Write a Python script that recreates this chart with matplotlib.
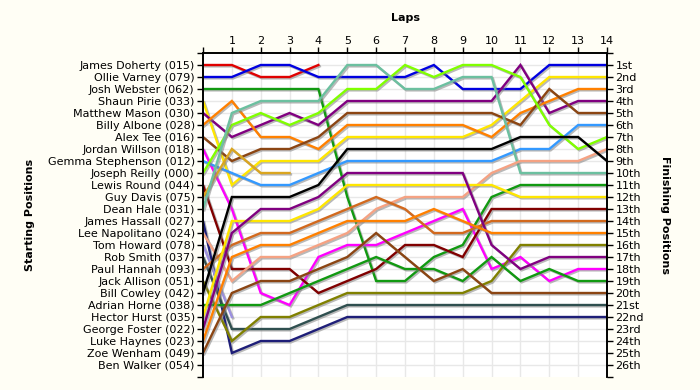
import matplotlib
matplotlib.use("Agg")
import matplotlib.pyplot as plt
import matplotlib.patheffects as pe

# starting grid order (position 1 first)
drivers = ["James Doherty", "Ollie Varney", "Josh Webster", "Shaun Pirie",
           "Matthew Mason", "Billy Albone", "Alex Tee", "Jordan Willson",
           "Gemma Stephenson", "Joseph Reilly", "Lewis Round", "Guy Davis",
           "Dean Hale", "James Hassall", "Lee Napolitano", "Tom Howard",
           "Rob Smith", "Paul Hannah", "Jack Allison", "Bill Cowley",
           "Adrian Horne", "Hector Hurst", "George Foster", "Luke Haynes",
           "Zoe Wenham", "Ben Walker"]
car_numbers = ["015", "079", "062", "033", "030", "028", "016", "018", "012",
               "000", "044", "075", "031", "027", "024", "078", "037", "093",
               "051", "042", "038", "035", "022", "023", "049", "054"]

# race position at the end of each lap (index 0 = grid)
positions = [
    [1, 1, 2, 2, 1],
    [2, 2, 1, 1, 2, 2, 2, 2, 1, 3, 3, 3, 1, 1, 1],
    [3, 3, 3, 3, 3, 12, 19, 19, 17, 16, 12, 11, 11, 11, 11],
    [4, 11, 9, 9, 9, 7, 7, 7, 7, 7, 6, 4, 2, 2, 2],
    [5, 7, 6, 5, 6, 4, 4, 4, 4, 4, 4, 1, 5, 4, 4],
    [6, 4, 7, 7, 8, 6, 6, 6, 6, 6, 7, 5, 4, 3, 3],
    [7, 9, 8, 8, 7, 5, 5, 5, 5, 5, 5, 6, 3, 5, 5],
    [8, 13, 20, 21, 17, 16, 16, 15, 14, 13, 18, 17, 19, 18, 18],
    [9, 10, 11, 11, 10, 9, 9, 9, 9, 9, 9, 8, 8, 6, 6],
    [10, 6, 5, 6, 5, 3, 3, 1, 2, 1, 1, 2, 6, 8, 7],
    [11, 18, 18, 18, 20, 19, 18, 16, 16, 17, 13, 13, 13, 13, 13],
    [12, 8, 10, 10],
    [13, 5, 4, 4, 4, 1, 1, 3, 3, 2, 2, 10, 10, 10, 10],
    [14, 25, 24, 24, 23, 22, 22, 22, 22, 22, 22, 22, 22, 22, 22],
    [15, 19, 17, 17, 16, 15, 13, 12, 12, 12, 10, 9, 9, 9, 8],
    [16, 22],
    [17, 23, 23, 23, 22, 21, 21, 21, 21, 21, 21, 21, 21, 21, 21],
    [18, 16, 15, 15, 14, 13, 12, 13, 15, 15, 14, 14, 14, 14, 14],
    [19, 24, 22, 22, 21, 20, 20, 20, 20, 20, 19, 16, 16, 16, 16],
    [20, 12, 12, 12, 11, 8, 8, 8, 8, 8, 8, 7, 7, 7, 9],
    [21, 21, 21, 20, 19, 18, 17, 18, 18, 19, 17, 19, 18, 19, 19],
    [22, 14, 14, 14, 13, 11, 11, 11, 11, 11, 11, 12, 12, 12, 12],
    [23, 15, 13, 13, 12, 10, 10, 10, 10, 10, 16, 18, 17, 17, 17],
    [24, 17, 16, 16, 15, 14, 14, 14, 13, 14, 15, 15, 15, 15, 15],
    [25, 20, 19, 19, 18, 17, 15, 17, 19, 18, 20, 20, 20, 20, 20],
    [],
]

colors = ["#e00000", "#0000e0", "#119911", "#ffe600", "#800080", "#ff8000",
          "#8b4513", "#ff00ff", "#3399ff", "#80ff00", "#800000", "#daa520",
          "#6cc0a0", "#1e1e78", "#f5a283", "#9b8fe0", "#2f4f4f", "#d2691e",
          "#808000", "#000000", "#119911", "#ffe600", "#800080", "#ff8000",
          "#8b4513", "#80ff00"]

n_laps = 14
n_drivers = len(drivers)


def ordinal(n):
    if 10 <= n % 100 <= 20:
        suf = "th"
    else:
        suf = {1: "st", 2: "nd", 3: "rd"}.get(n % 10, "th")
    return f"{n}{suf}"


plt.rcParams["font.family"] = "DejaVu Sans"
fig = plt.figure(figsize=(7, 3.9), dpi=100, facecolor="#fffef5")
ax = fig.add_axes([203 / 700, 1 - 377 / 390, 404 / 700, 324 / 390])
ax.set_facecolor("white")
ax.set_xlim(0, n_laps)
ax.set_ylim(n_drivers + 1, 0)

# grid
for x in range(1, n_laps):
    ax.axvline(x, color="#e8e8e8", lw=1, zorder=0)
for y in range(1, n_drivers + 1):
    ax.axhline(y, color="#e8e8e8", lw=1, zorder=0)

shadow = [pe.SimpleLineShadow(offset=(1.0, -1.0), shadow_color="#808080", alpha=0.55),
          pe.Normal()]
for pos, c in zip(positions, colors):
    if not pos:
        continue
    ax.plot(range(len(pos)), pos, color=c, lw=1.7, solid_joinstyle="miter",
            path_effects=shadow, zorder=2)

# axes / ticks
ax.xaxis.tick_top()
ax.set_xticks(range(0, n_laps + 1))
ax.set_xticklabels([""] + [str(i) for i in range(1, n_laps + 1)], fontsize=8)
ax.set_yticks(range(0, n_drivers + 2))
ax.set_yticklabels([""] + [f"{d} ({n})" for d, n in zip(drivers, car_numbers)] + [""],
                   fontsize=8)
ax.tick_params(axis="both", direction="out", length=4, width=1, pad=2)
ax.tick_params(axis="x", pad=1)

ax2 = ax.twinx()
ax2.set_ylim(n_drivers + 1, 0)
ax2.set_yticks(range(0, n_drivers + 2))
ax2.set_yticklabels([""] + [ordinal(i) for i in range(1, n_drivers + 1)] + [""], fontsize=8)
ax2.tick_params(axis="y", direction="out", length=4, width=1, pad=2)

for a in (ax, ax2):
    a.spines["bottom"].set_visible(False)
    for s in ("top", "left", "right"):
        a.spines[s].set_linewidth(1.2)

fig.text(405 / 700, 1 - 18 / 390, "Laps", ha="center", va="center",
         fontsize=8, fontweight="bold")
fig.text(30 / 700, 1 - 215 / 390, "Starting Positions", ha="center", va="center",
         rotation=90, fontsize=8, fontweight="bold")
fig.text(665 / 700, 1 - 215 / 390, "Finishing Positions", ha="center", va="center",
         rotation=270, fontsize=8, fontweight="bold")

fig.savefig("out.png", dpi=100, facecolor=fig.get_facecolor())
